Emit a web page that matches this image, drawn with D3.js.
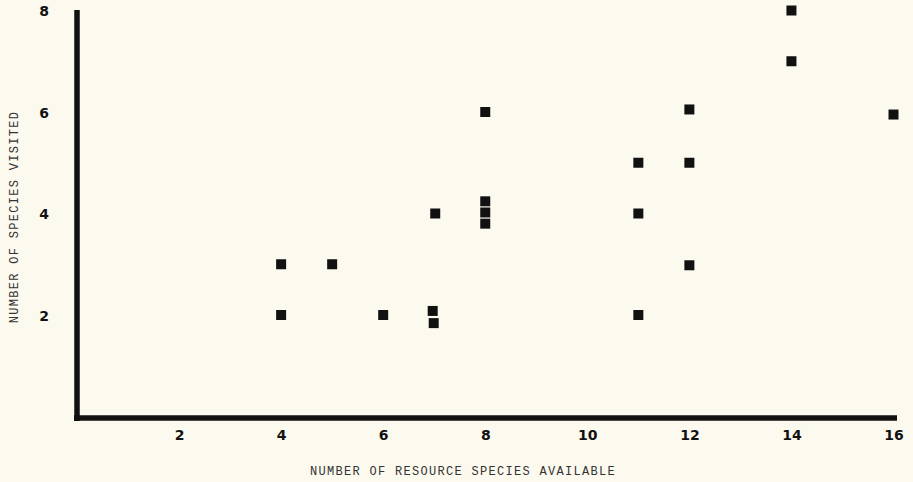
<!DOCTYPE html>
<html>
<head>
<meta charset="utf-8">
<script src="https://cdn.jsdelivr.net/npm/d3@7"></script>
<style>
  html, body { margin: 0; padding: 0; background: #fcf9ee; }
  svg { display: block; }
</style>
</head>
<body>
<svg id="chart" width="913" height="482"></svg>
<script>
// Resource species available vs. species visited
const resourcesAvailable = [4, 4, 5, 6, 6.97, 6.99, 7.02, 8, 8, 8, 8, 11, 11, 11, 12, 12, 12, 14, 14, 16];
const speciesVisited     = [3, 2, 3, 2, 2.08, 1.84, 4.0, 6.0, 4.24, 4.02, 3.80, 5, 4, 2, 6.05, 5, 2.98, 8, 7, 5.95];
const xTicks = [2, 4, 6, 8, 10, 12, 14, 16];
const yTicks = [2, 4, 6, 8];
const xTitle = "NUMBER OF RESOURCE SPECIES AVAILABLE";
const yTitle = "NUMBER OF SPECIES VISITED";

const svg = d3.select("#chart");

const x = d3.scaleLinear().domain([0, 16]).range([77, 893.5]);
const y = d3.scaleLinear().domain([0, 8]).range([416.5, 10.5]);

// Axis frame: heavy black lines
const frame = svg.append("g").attr("stroke", "#111").attr("stroke-linecap", "butt");
frame.append("line")
  .attr("x1", x(0)).attr("x2", x(0))
  .attr("y1", y(8) - 0.5).attr("y2", y(0) + 4.5)
  .attr("stroke-width", 5.5);
frame.append("line")
  .attr("x1", x(0) - 3).attr("x2", x(16) + 3.5)
  .attr("y1", y(0) + 1.5).attr("y2", y(0) + 1.5)
  .attr("stroke-width", 5.5);

const labelFont = "'DejaVu Sans', 'Liberation Sans', sans-serif";

// X tick labels
const xAxis = d3.axisBottom(x).tickValues(xTicks).tickSize(0).tickPadding(0).tickFormat(d3.format("d"));
const gx = svg.append("g").attr("transform", `translate(0, ${y(0) + 23.5})`).call(xAxis);
gx.select(".domain").remove();
gx.selectAll("text")
  .attr("dy", 0)
  .attr("fill", "#111")
  .style("font-family", labelFont)
  .style("font-weight", "bold")
  .style("font-size", "14px");

// Y tick labels
const yAxis = d3.axisLeft(y).tickValues(yTicks).tickSize(0).tickPadding(0).tickFormat(d3.format("d"));
const gy = svg.append("g").attr("transform", `translate(49, 0)`).call(yAxis);
gy.select(".domain").remove();
gy.selectAll("text")
  .attr("dy", "0.36em")
  .attr("fill", "#111")
  .style("font-family", labelFont)
  .style("font-weight", "bold")
  .style("font-size", "14px");

// Points as filled squares
const s = 10;
svg.append("g")
  .selectAll("rect")
  .data(resourcesAvailable.map((v, i) => [v, speciesVisited[i]]))
  .join("rect")
  .attr("x", d => x(d[0]) - s / 2)
  .attr("y", d => y(d[1]) - s / 2)
  .attr("width", s)
  .attr("height", s)
  .attr("fill", "#111");

// Axis titles
const titleStyle = sel => sel
  .attr("fill", "#333")
  .style("font-family", "'Liberation Mono', 'DejaVu Sans Mono', monospace")
  .style("font-size", "12px")
  .style("letter-spacing", "1.3px")
  .attr("text-anchor", "middle");

svg.append("text")
  .attr("x", 463).attr("y", 475)
  .text(xTitle)
  .call(titleStyle);

svg.append("text")
  .attr("transform", "translate(18, 217) rotate(-90)")
  .text(yTitle)
  .call(titleStyle);
</script>
</body>
</html>
